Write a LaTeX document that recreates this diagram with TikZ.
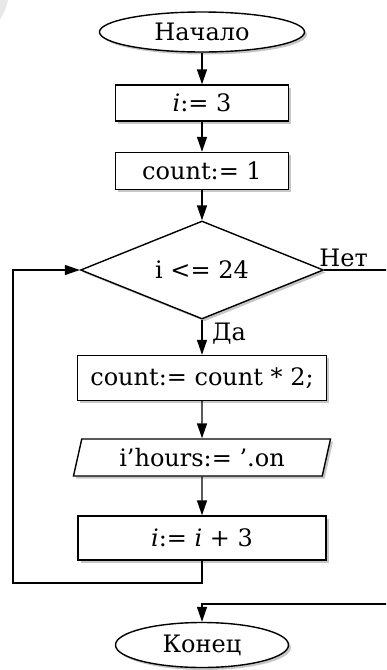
\documentclass[tikz,border=0pt]{standalone}
\usepackage{fontspec}
\setmainfont{DejaVu Serif}
\usetikzlibrary{shapes.geometric,arrows.meta,shadows}
\begin{document}
\begin{tikzpicture}[x=1pt,y=-1pt,
  base/.style={draw,line width=1.4pt,fill=white,inner sep=0pt,
    font=\fontsize{24}{28}\selectfont,
    drop shadow={shadow xshift=2.5pt,shadow yshift=-2.5pt,opacity=0.45,fill=black!50}},
  term/.style={base,ellipse},
  proc/.style={base,rectangle},
  dec/.style={base,diamond,aspect=2.5},
  io/.style={base,trapezium,trapezium left angle=66,trapezium right angle=114,trapezium stretches body},
  flow/.style={line width=1.4pt,-{Triangle[length=15pt,width=10pt]}},
  lbl/.style={font=\fontsize{24}{28}\selectfont,inner sep=0pt}
]
\useasboundingbox (0,0) rectangle (386,670);
\clip (0,0) rectangle (386,670);
\fill[gray!18] (-40,-8) circle (48.5);

\node[term,minimum width=205pt,minimum height=40pt] (start) at (202,32) {Начало};
\node[proc,minimum width=173pt,minimum height=36pt] (i3) at (202,103) {\textit{i}:= 3};
\node[proc,minimum width=173pt,minimum height=37pt] (c1) at (202,171) {count:= 1};
\node[dec,minimum width=243pt,minimum height=98pt] (d) at (202,270) {i <= 24};
\node[proc,minimum width=249pt,minimum height=45pt] (c2) at (202,378) {count:= count * 2;};
\node[io,minimum width=257pt,minimum height=37pt] (p) at (202,457.5) {i’hours:= ’.on};
\node[proc,minimum width=248pt,minimum height=44pt] (inc) at (202,538) {\textit{i}:= \textit{i} + 3};
\node[term,minimum width=173pt,minimum height=45pt] (stop) at (202,645) {Конец};

\node[lbl,anchor=south west] (no) at ([xshift=-5pt,yshift=3pt]d.east) {Нет};
\node[lbl] (yes) at (229,334) {Да};

\coordinate (lb) at (13,583);
\coordinate (nr) at (400,270);
\coordinate (nj) at (202,604);

\draw[flow] (start) -- (i3);
\draw[flow] (i3) -- (c1);
\draw[flow] (c1) -- (d);
\draw[flow] (d) -- (c2);
\draw[flow] (c2) -- (p);
\draw[flow] (p) -- (inc);
\draw[flow] (inc.south) |- (lb) |- (d.west);
\draw[flow] (d.east) -- (nr) |- (nj) -- (stop.north);
\end{tikzpicture}
\end{document}
